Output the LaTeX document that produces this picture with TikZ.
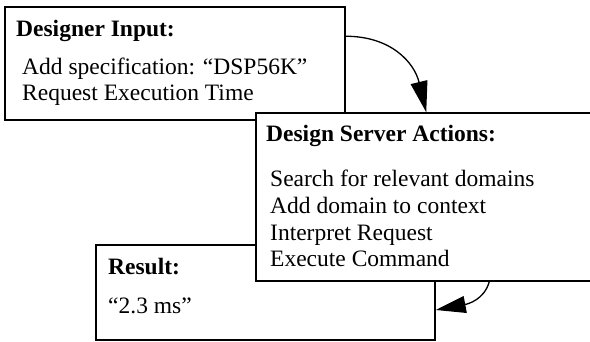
\documentclass[tikz,border=0pt]{standalone}
\usepackage{fontspec}
\setmainfont{Liberation Serif}
\usetikzlibrary{arrows.meta}
\begin{document}
\begin{tikzpicture}[x=1pt,y=-1pt,
  box/.style={draw,fill=white,line width=1.5pt,rectangle,inner sep=0pt},
  txt/.style={anchor=base west,inner sep=0pt,font=\fontsize{23.5}{26}\selectfont},
  ttl/.style={txt,font=\fontsize{23.5}{26}\selectfont\bfseries},
  conn/.style={line width=1.3pt}]
\useasboundingbox (0,0) rectangle (590,342);
\clip (0,0) rectangle (590,342);
% boxes
\node[box,minimum width=340pt,minimum height=113pt] (b1) at (175,63.5) {};
\node[box,minimum width=339pt,minimum height=95pt] (b3) at (265.5,292.5) {};
\node[box,minimum width=340pt,minimum height=168pt] (b2) at (426,197) {};
% texts box 1
\node[ttl] (t1) at (16,37) {Designer Input:};
\node[txt] (t1a) at (22,75) {Add specification: ``DSP56K''};
\node[txt] (t1b) at (22,101) {Request Execution Time};
% texts box 2
\node[ttl] (t2) at (266,142) {Design Server Actions:};
\node[txt] (t2a) at (270,187) {Search for relevant domains};
\node[txt] (t2b) at (270,213.5) {Add domain to context};
\node[txt] (t2c) at (270,240.5) {Interpret Request};
\node[txt] (t2d) at (270,267) {Execute Command};
% texts box 3
\node[ttl] (t3) at (108,275) {Result:};
\node[txt] (t3a) at (108,314) {``2.3 ms''};
% connectors
\coordinate (s1) at ([yshift=-30pt]b1.north east);
\coordinate (e1) at ([xshift=171pt]b2.north west);
\draw[conn,-{Triangle[length=31pt,width=17pt]}] (s1) .. controls +(45,0) and +(-12,-50) .. (e1);
\coordinate (s2) at ([xshift=234pt]b2.south west);
\coordinate (e2) at ([yshift=-17.5pt]b3.east);
\draw[conn,-{Triangle[length=30pt,width=17pt]}] (s2) .. controls +(-5,18) and +(32,-6) .. (e2);
\end{tikzpicture}
\end{document}
